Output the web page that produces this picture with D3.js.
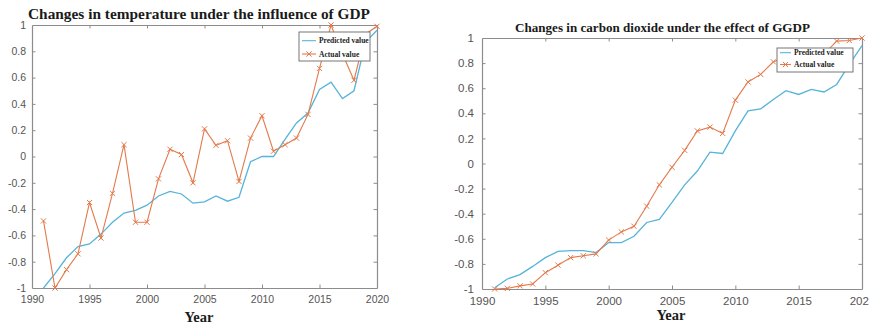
<!DOCTYPE html>
<html>
<head>
<meta charset="utf-8">
<script src="https://cdn.jsdelivr.net/npm/d3@7"></script>
<style>
  html, body { margin: 0; padding: 0; background: #fff; }
  svg { display: block; }
</style>
</head>
<body>
<svg id="chart" width="869" height="327"></svg>
<script>
// Years observed, 1991–2020
const years = [1991, 1992, 1993, 1994, 1995, 1996, 1997, 1998, 1999, 2000,
               2001, 2002, 2003, 2004, 2005, 2006, 2007, 2008, 2009, 2010,
               2011, 2012, 2013, 2014, 2015, 2016, 2017, 2018, 2019, 2020];

// Temperature (normalised) under the influence of GDP
const tempPredicted = [-1.0, -0.89, -0.77, -0.685, -0.665, -0.59, -0.50, -0.43, -0.41, -0.37,
                       -0.30, -0.265, -0.285, -0.355, -0.345, -0.30, -0.34, -0.31, -0.04, 0.0,
                       0.0, 0.13, 0.255, 0.33, 0.51, 0.565, 0.44, 0.50, 0.87, 0.96];
const tempActual = [-0.49, -1.0, -0.86, -0.74, -0.35, -0.62, -0.28, 0.09, -0.50, -0.50,
                    -0.17, 0.055, 0.015, -0.20, 0.21, 0.085, 0.12, -0.19, 0.14, 0.31,
                    0.04, 0.09, 0.14, 0.32, 0.67, 1.0, 0.78, 0.58, 0.93, 0.99];

// Carbon dioxide (normalised) under the effect of GGDP
const co2Predicted = [-0.99, -0.92, -0.885, -0.82, -0.75, -0.70, -0.695, -0.695, -0.71, -0.63,
                      -0.63, -0.58, -0.47, -0.445, -0.31, -0.17, -0.06, 0.09, 0.08, 0.26,
                      0.42, 0.435, 0.51, 0.58, 0.55, 0.59, 0.57, 0.63, 0.79, 0.94];
const co2Actual = [-1.0, -0.995, -0.975, -0.96, -0.87, -0.81, -0.75, -0.735, -0.72, -0.61,
                   -0.545, -0.50, -0.34, -0.17, -0.03, 0.105, 0.26, 0.29, 0.24, 0.505,
                   0.65, 0.71, 0.81, 0.84, 0.86, 0.86, 0.87, 0.975, 0.98, 1.0];

// Axis ticks and labels
const xTicks = [1990, 1995, 2000, 2005, 2010, 2015, 2020];
const yTicks = [-1, -0.8, -0.6, -0.4, -0.2, 0, 0.2, 0.4, 0.6, 0.8, 1];
const yTickLabels = ["-1", "-0.8", "-0.6", "-0.4", "-0.2", "0", "0.2", "0.4", "0.6", "0.8", "1"];

const seriesNames = ["Predicted value", "Actual value"];
const titles = ["Changes in temperature under the influence of GDP",
                "Changes in carbon dioxide under the effect of GGDP"];
const xLabel = "Year";

const COLOR_PRED = "#56b4d9";
const COLOR_ACT = "#e37a4c";
const AXIS_COLOR = "#8c8c8c";
const TICK_TEXT = "#555";
const SERIF = "'Liberation Serif', 'DejaVu Serif', serif";
const SANS = "'Liberation Sans', Arial, sans-serif";

const svg = d3.select("#chart");

const panels = [
  {
    title: titles[0], titleSize: 15, titleX: 199, titleY: 18.5, titleLen: 342,
    pred: tempPredicted, act: tempActual,
    left: 32, right: 377, top: 25, bottom: 288,
    tickFont: 10.5, yPad: 6, yearX: 199, yearY: 322, yearSize: 15, yearLen: 29,
    legend: { x: 299, y: 32, w: 71, h: 29, lx0: 302, lx1: 316, tx: 319, rows: [40.7, 54], font: 7.5 }
  },
  {
    title: titles[1], titleSize: 12.5, titleX: 662.5, titleY: 31.7, titleLen: 295,
    pred: co2Predicted, act: co2Actual,
    left: 482, right: 862, top: 38, bottom: 289,
    tickFont: 11.5, yPad: 8, yearX: 671, yearY: 320, yearSize: 14, yearLen: 29,
    legend: { x: 777, y: 48, w: 76, h: 24, lx0: 780, lx1: 791, tx: 794, rows: [52.7, 64.5], font: 7.5 }
  }
];

panels.forEach(p => {
  const x = d3.scaleLinear().domain([1990, 2020]).range([p.left, p.right]);
  const y = d3.scaleLinear().domain([-1, 1]).range([p.bottom, p.top]);
  const g = svg.append("g");

  // Axes with inward ticks on all four sides
  const tickLen = 3.5;
  const bottomAxis = d3.axisBottom(x).tickValues(xTicks).tickFormat(d3.format("d"))
    .tickSizeInner(-tickLen).tickSizeOuter(0).tickPadding(8);
  const topAxis = d3.axisTop(x).tickValues(xTicks).tickFormat("")
    .tickSizeInner(-tickLen).tickSizeOuter(0);
  const leftAxis = d3.axisLeft(y).tickValues(yTicks)
    .tickFormat((d, i) => yTickLabels[i]).tickSizeInner(-tickLen).tickSizeOuter(0).tickPadding(p.yPad);
  const rightAxis = d3.axisRight(y).tickValues(yTicks).tickFormat("")
    .tickSizeInner(-tickLen).tickSizeOuter(0);

  const ax = [
    g.append("g").attr("transform", `translate(0,${p.bottom})`).call(bottomAxis),
    g.append("g").attr("transform", `translate(0,${p.top})`).call(topAxis),
    g.append("g").attr("transform", `translate(${p.left},0)`).call(leftAxis),
    g.append("g").attr("transform", `translate(${p.right},0)`).call(rightAxis)
  ];
  ax.forEach(a => {
    a.select(".domain").attr("stroke", AXIS_COLOR).attr("stroke-width", 1.2);
    a.selectAll(".tick line").attr("stroke", AXIS_COLOR).attr("stroke-width", 1);
    a.selectAll(".tick text").attr("fill", TICK_TEXT)
      .attr("font-family", SANS).attr("font-size", p.tickFont);
  });
  // Hide tick marks at the box corners
  ax.forEach(a => a.selectAll(".tick").filter(d => d === 1990 || d === 2020 || d === -1 || d === 1)
    .select("line").attr("display", "none"));

  // Series lines
  const line = d3.line().x((d, i) => x(years[i])).y(d => y(d));
  g.append("path").datum(p.pred).attr("d", line)
    .attr("fill", "none").attr("stroke", COLOR_PRED).attr("stroke-width", 1.3);
  g.append("path").datum(p.act).attr("d", line)
    .attr("fill", "none").attr("stroke", COLOR_ACT).attr("stroke-width", 1.1);

  // Cross markers on the actual values
  const m = 2.6;
  const cross = (cx, cy) => `M${cx - m},${cy - m}L${cx + m},${cy + m}M${cx - m},${cy + m}L${cx + m},${cy - m}`;
  g.selectAll(".mk").data(p.act).join("path")
    .attr("d", (d, i) => cross(x(years[i]), y(d)))
    .attr("stroke", COLOR_ACT).attr("stroke-width", 1).attr("fill", "none");

  // Legend
  const L = p.legend;
  const lg = g.append("g");
  lg.append("rect").attr("x", L.x).attr("y", L.y).attr("width", L.w).attr("height", L.h)
    .attr("fill", "#fff").attr("stroke", "#777").attr("stroke-width", 1);
  [COLOR_PRED, COLOR_ACT].forEach((c, i) => {
    lg.append("line").attr("x1", L.lx0).attr("x2", L.lx1).attr("y1", L.rows[i]).attr("y2", L.rows[i])
      .attr("stroke", c).attr("stroke-width", 1.1);
    if (i === 1) {
      const cx = (L.lx0 + L.lx1) / 2;
      lg.append("path").attr("d", cross(cx, L.rows[i])).attr("stroke", c).attr("fill", "none");
    }
    lg.append("text").attr("x", L.tx).attr("y", L.rows[i]).attr("dy", "0.35em")
      .attr("font-family", SERIF).attr("font-weight", "bold").attr("font-size", L.font)
      .attr("fill", "#222").text(seriesNames[i]);
  });

  // Title
  g.append("text").attr("x", p.titleX).attr("y", p.titleY).attr("text-anchor", "middle")
    .attr("font-family", SERIF).attr("font-weight", "bold").attr("font-size", p.titleSize)
    .attr("fill", "#1a1a1a").attr("textLength", p.titleLen).attr("lengthAdjust", "spacingAndGlyphs")
    .text(p.title);

  // X-axis label
  g.append("text").attr("x", p.yearX).attr("y", p.yearY).attr("text-anchor", "middle")
    .attr("font-family", SERIF).attr("font-weight", "bold").attr("font-size", p.yearSize)
    .attr("fill", "#1a1a1a").attr("textLength", p.yearLen).attr("lengthAdjust", "spacingAndGlyphs")
    .text(xLabel);
});
</script>
</body>
</html>
